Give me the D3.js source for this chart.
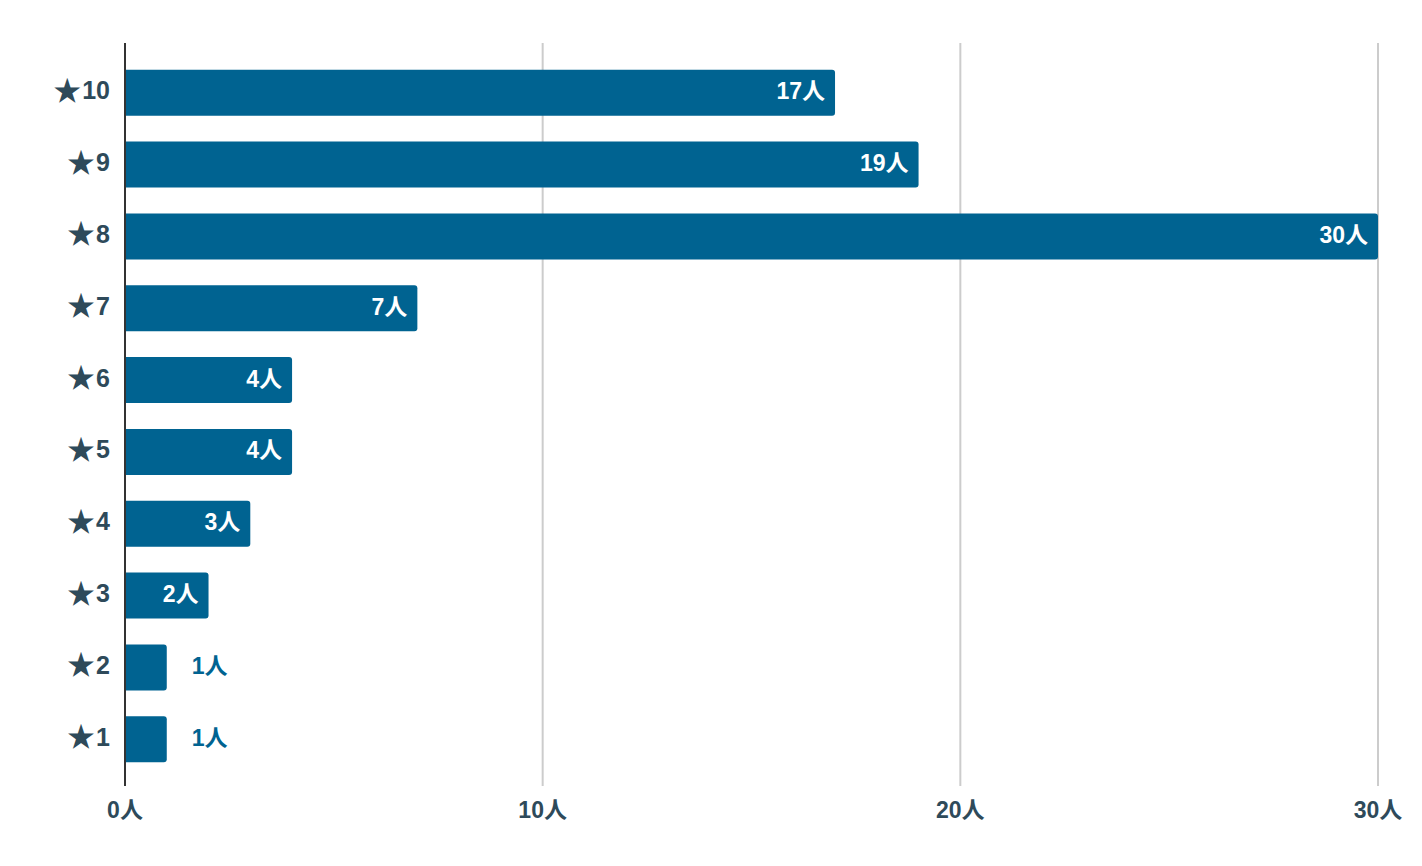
<!DOCTYPE html>
<html>
<head>
<meta charset="utf-8">
<script src="https://cdn.jsdelivr.net/npm/d3@7"></script>
<style>
  html, body { margin: 0; padding: 0; background: #fff; }
  svg text { font-family: "Liberation Sans", Arial, "Noto Sans CJK JP", sans-serif; font-weight: bold; }
  .star { font-family: "Noto Sans CJK JP", sans-serif; }
</style>
</head>
<body>
<svg id="chart" width="1422" height="866"></svg>
<script>
const categories = ["★10", "★9", "★8", "★7", "★6", "★5", "★4", "★3", "★2", "★1"];
const values = [17, 19, 30, 7, 4, 4, 3, 2, 1, 1];
const xTicks = [0, 10, 20, 30];
const unit = "人";

const barColor = "#006391";
const textColor = "#2e4a5a";

const svg = d3.select("#chart");
const x = d3.scaleLinear().domain([0, 30]).range([125, 1378]);
const y = d3.scaleBand().domain(categories).range([46, 786]).paddingInner(0.36).paddingOuter(0.33);
const plotTop = 43, plotBottom = 786;

// gridlines
svg.append("g").selectAll("line").data(xTicks.filter(d => d > 0)).join("line")
  .attr("x1", d => x(d)).attr("x2", d => x(d))
  .attr("y1", plotTop).attr("y2", plotBottom)
  .attr("stroke", "#cccccc").attr("stroke-width", 2);

// bars with rounded right corners
const r = 3;
svg.append("g").selectAll("path").data(categories).join("path")
  .attr("fill", barColor)
  .attr("d", (c, i) => {
    const x0 = x(0), x1 = x(values[i]), y0 = y(c), h = y.bandwidth();
    return `M${x0},${y0}H${x1 - r}Q${x1},${y0} ${x1},${y0 + r}V${y0 + h - r}Q${x1},${y0 + h} ${x1 - r},${y0 + h}H${x0}Z`;
  });

// axis line
svg.append("line").attr("x1", x(0)).attr("x2", x(0)).attr("y1", plotTop).attr("y2", plotBottom)
  .attr("stroke", "#333333").attr("stroke-width", 2);

// value labels
svg.append("g").selectAll("text").data(categories).join("text")
  .attr("y", c => y(c) + y.bandwidth() / 2)
  .attr("dy", "0.28em")
  .attr("font-size", 23)
  .each(function (c, i) {
    const v = values[i];
    const inside = v >= 2;
    d3.select(this)
      .attr("x", inside ? x(v) - 10 : x(v) + 25)
      .attr("text-anchor", inside ? "end" : "start")
      .attr("fill", inside ? "#ffffff" : barColor)
      .text(v + unit);
  });

// y-axis labels
svg.append("g").selectAll("text").data(categories).join("text")
  .attr("x", 110)
  .attr("y", c => y(c) + y.bandwidth() / 2)
  .attr("text-anchor", "end")
  .attr("font-size", 25)
  .attr("fill", textColor)
  .each(function (c) {
    const t = d3.select(this);
    t.append("tspan").attr("class", "star").attr("font-size", 28).attr("dy", 8).text(c.slice(0, 1));
    t.append("tspan").attr("dx", 1).attr("dy", -1.5).text(c.slice(1));
  });

// x-axis labels
svg.append("g").selectAll("text").data(xTicks).join("text")
  .attr("x", d => x(d))
  .attr("y", 818)
  .attr("text-anchor", "middle")
  .attr("font-size", 23)
  .attr("fill", textColor)
  .text(d => d + unit);
</script>
</body>
</html>
